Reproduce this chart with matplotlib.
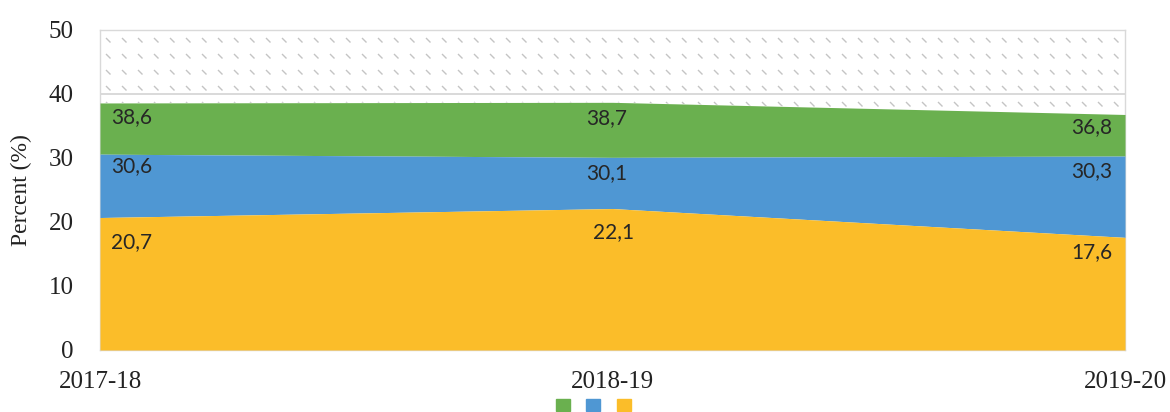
import matplotlib
matplotlib.use("Agg")
import matplotlib.pyplot as plt
from matplotlib.patches import Patch
from matplotlib.collections import LineCollection
import numpy as np

years = ["2017-18", "2018-19", "2019-20"]
yellow_vals = [20.7, 22.1, 17.6]
blue_vals = [30.6, 30.1, 30.3]
green_vals = [38.6, 38.7, 36.8]
cap = 50
yticks = [0, 10, 20, 30, 40, 50]

# layout: vertical offset of each data label below the top edge of its band
label_dy = [[2.2, 1.9, 3.8], [2.5, 2.5, 3.6], [1.9, 2.3, 2.3]]

c_yellow = "#FBBD29"
c_blue = "#4F97D3"
c_green = "#6AB04F"

W, H = 1170, 412
fig = plt.figure(figsize=(W / 100, H / 100), dpi=100)
axw, axh = 1025, 320
ax = fig.add_axes([100 / W, 62 / H, axw / W, axh / H])
x = np.arange(len(years))

ax.set_ylim(0, 50)
ax.set_xlim(0, len(years) - 1)
for t in [40, 50]:
    ax.axhline(t, color="#D9D9D9", lw=1.4, zorder=3)

hatch_area = ax.fill_between(x, green_vals, cap, facecolor="white", linewidth=0, zorder=1)
# dashed hatch texture, clipped to the area
segs = []
step_x, step_y, d = 16.0, 16.0, 4.5
for py in np.arange(8, axh, step_y):
    for px in np.arange(6, axw, step_x):
        segs.append([((px) / axw, (py) / axh), ((px + d) / axw, (py - d) / axh)])
lc = LineCollection(segs, colors="#C4C4C4", linewidths=1.0, transform=ax.transAxes, zorder=2)
ax.add_collection(lc)
lc.set_clip_path(hatch_area.get_paths()[0], ax.transData)

ax.fill_between(x, blue_vals, green_vals, color=c_green, lw=0, zorder=4)
ax.fill_between(x, yellow_vals, blue_vals, color=c_blue, lw=0, zorder=4)
ax.fill_between(x, 0, yellow_vals, color=c_yellow, lw=0, zorder=4)

lab_font = dict(family=["Lato", "DejaVu Sans"], fontsize=15, color="#262626", zorder=6)
n = len(years)
for i in range(n):
    if i == 0:
        ha, xpos = "left", i + 11 / axw * (n - 1)
    elif i == n - 1:
        ha, xpos = "right", i - 13 / axw * (n - 1)
    else:
        ha, xpos = "center", i - 6 / axw * (n - 1)
    for j, vals in enumerate((green_vals, blue_vals, yellow_vals)):
        xx = xpos + (7 / axw * (n - 1) if (i == 1 and j == 2) else 0)
        ax.text(xx, vals[i] - label_dy[i][j], f"{vals[i]:.1f}".replace(".", ","),
                ha=ha, va="center", **lab_font)

ax.set_xticks(x)
ax.set_xticklabels(years)
ax.set_yticks(yticks)
ax.tick_params(length=0, labelsize=18)
ax.tick_params(axis="x", pad=15)
ax.tick_params(axis="y", pad=19)
for lbl in ax.get_xticklabels() + ax.get_yticklabels():
    lbl.set_family(["Liberation Serif", "DejaVu Serif"])
    lbl.set_color("#222222")
ax.set_ylabel("Percent (%)", family=["Liberation Serif", "DejaVu Serif"], fontsize=17,
              color="#222222")
ax.yaxis.set_label_coords(-68 / axw, 0.5)
for s in ax.spines.values():
    s.set_color("#D9D9D9")
    s.set_linewidth(1.0)
    s.set_zorder(3)

handles = [Patch(color=c) for c in (c_green, c_blue, c_yellow)]
fig.legend(handles, ["", "", ""], loc="center", bbox_to_anchor=(0.507, 0.015), ncol=3,
           frameon=False, handlelength=1.0, handleheight=1.0, columnspacing=1.2,
           handletextpad=0.0)

fig.savefig("out.png", dpi=100)
